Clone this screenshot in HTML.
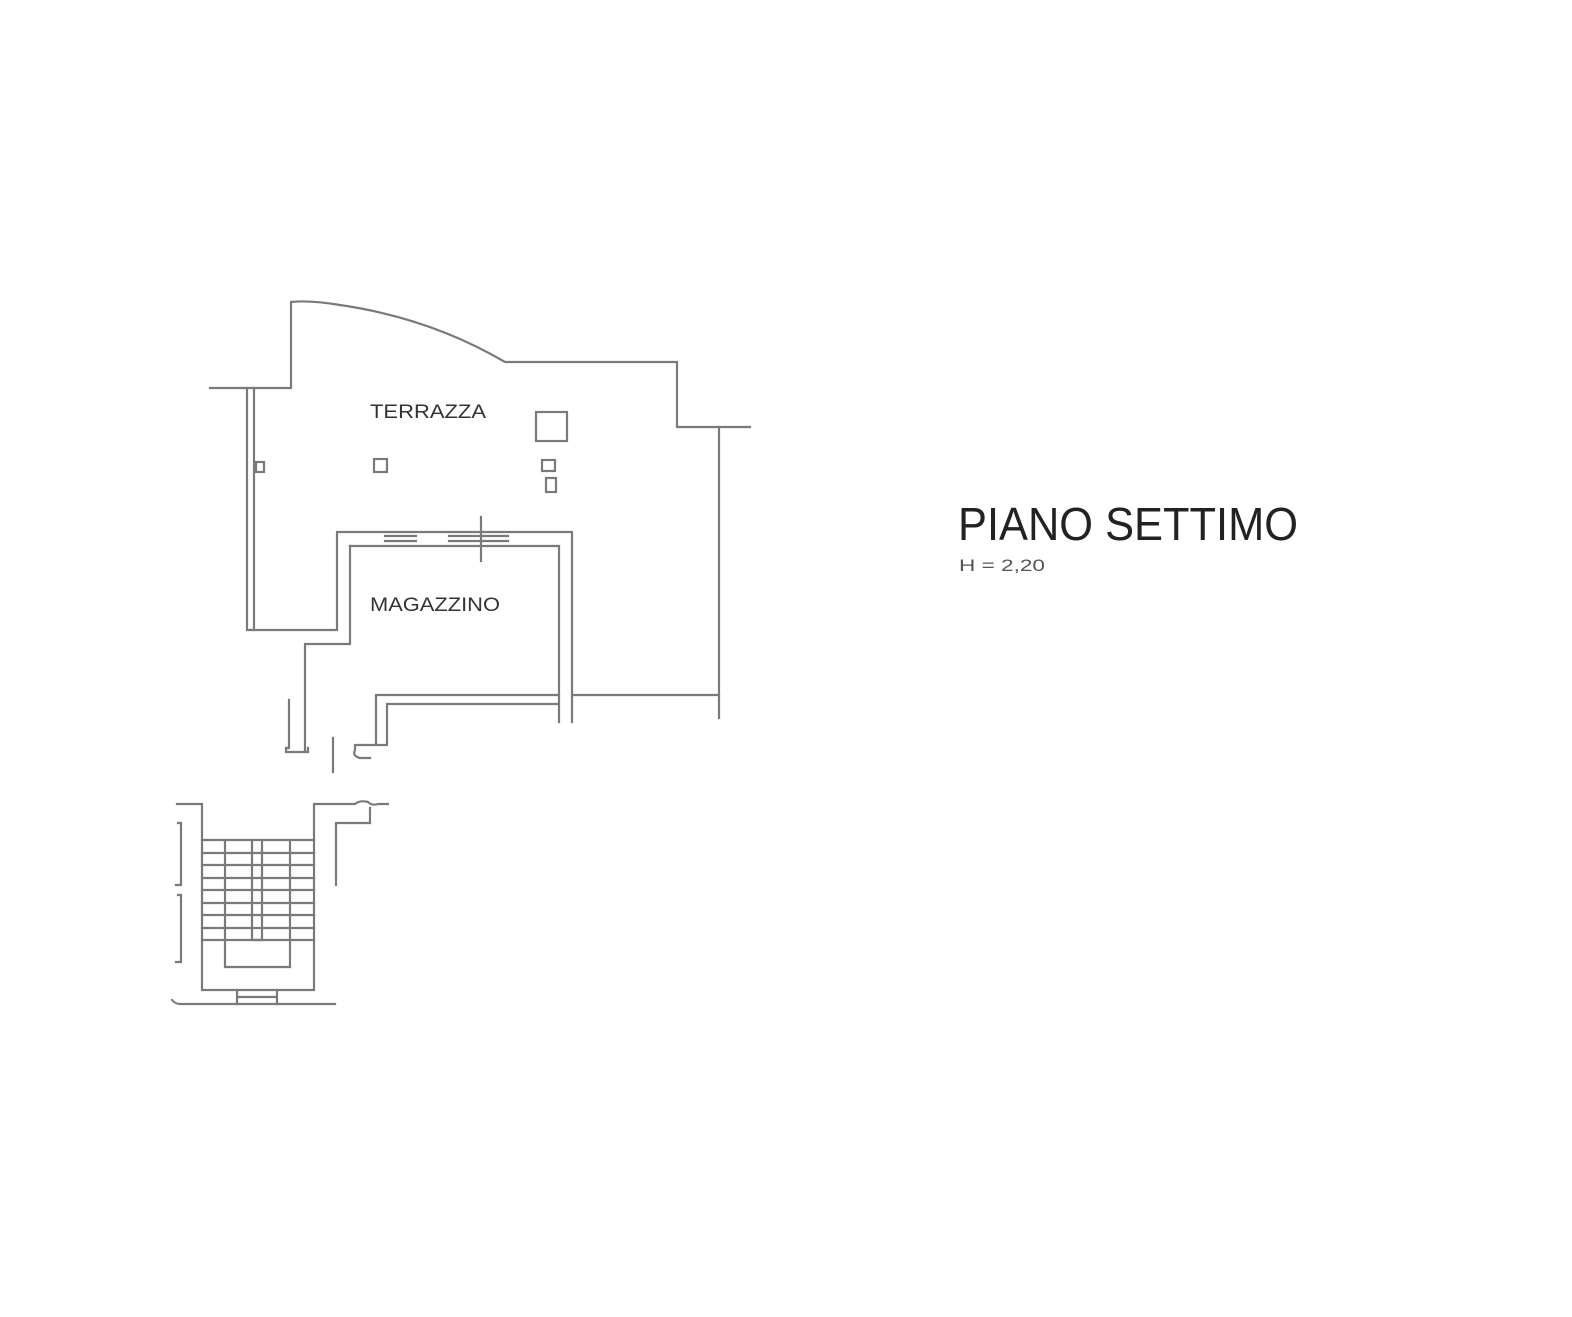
<!DOCTYPE html>
<html><head><meta charset="utf-8"><style>
html,body{margin:0;padding:0;background:#fff;}
svg{display:block;}
</style></head><body>
<svg width="1572" height="1317" viewBox="0 0 1572 1317" xmlns="http://www.w3.org/2000/svg">
<rect width="1572" height="1317" fill="#fff"/>
<g fill="none" stroke="#7a7a7a" stroke-width="2.2" stroke-linecap="square">
<!-- outer terrace -->
<path d="M210 388 H291 V302 Q310 300 340 305 Q430 318 505 362 H677 V427 H750"/>
<path d="M719 427 V718"/>
<path d="M247 388 V630 H337 V532 H572 V722"/>
<path d="M254 388 V630"/>
<path d="M350 546 V644 H305 V750"/>
<path d="M350 546 H559 V722"/>
<path d="M572 695 H719"/>
<path d="M559 695 H376 V745"/>
<path d="M559 704 H387 V745 H355 V750 Q352 756 360 758 H370"/>
<path d="M289 700 V748 H286 V752 H308 V748"/>
<path d="M333 738 V772"/>
<path d="M481 517 V561"/>
<!-- windows -->
<path d="M385 536 H416 M385 541 H416 M449 536 H508 M449 541 H508"/>
<!-- objects -->
<rect x="536" y="412" width="31" height="29"/>
<rect x="374" y="459" width="13" height="13"/>
<rect x="542" y="460" width="13" height="11"/>
<rect x="546" y="478" width="10" height="14"/>
<rect x="256" y="462" width="8" height="10"/>
<!-- staircase -->
<path d="M177 804 H202 V990 H314 V804 H355 Q360 800 368 802 Q372 806 378 804 H388"/>
<path d="M336 885 V823 H370 V808"/>
<path d="M178 823 H181 V885 H176 M178 895 H181 V962 H176"/>
<path d="M172 1000 Q175 1004 180 1004 H335"/>
<path d="M237 990 V1004 M277 990 V1004 M237 997 H277"/>
<path d="M225 840 V967 H290 V840"/>
<path d="M252 840 V940 H262 V840"/>
<path d="M202 840 H314 M202 853 H314 M202 865 H314 M202 878 H314 M202 890 H314 M202 903 H314 M202 915 H314 M202 928 H314 M202 940 H314"/>
</g>
<g font-family="Liberation Sans, sans-serif" fill="#333">
<text x="370" y="418" font-size="19" textLength="116" lengthAdjust="spacingAndGlyphs">TERRAZZA</text>
<text x="370" y="611" font-size="19" textLength="130" lengthAdjust="spacingAndGlyphs">MAGAZZINO</text>
<text x="958" y="540" font-size="46" fill="#222" textLength="340" lengthAdjust="spacingAndGlyphs">PIANO SETTIMO</text>
<text x="959" y="571" font-size="17" fill="#555" textLength="86" lengthAdjust="spacingAndGlyphs">H = 2,20</text>
</g>
</svg>
</body></html>
